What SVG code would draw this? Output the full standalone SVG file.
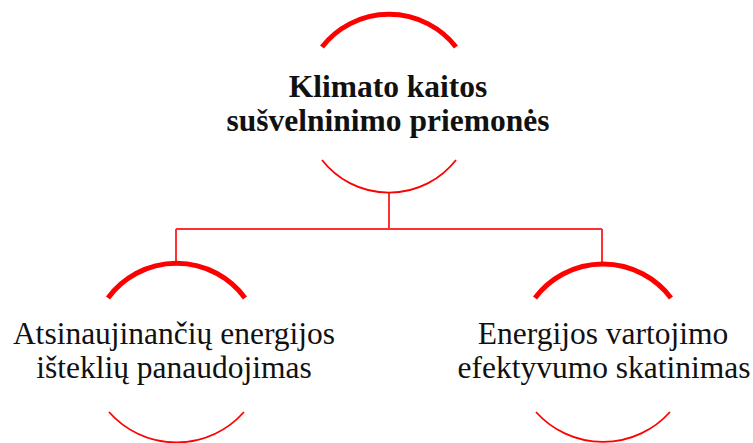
<svg xmlns="http://www.w3.org/2000/svg" width="753" height="443" viewBox="0 0 753 443">
<style>
.top{fill:none;stroke:#ff0000;stroke-width:5}
.bot{fill:none;stroke:#ff0000;stroke-width:1.8}
.conn{fill:none;stroke:#ff3030;stroke-width:2}
text{font-size:31.5px;fill:#111;text-anchor:middle}
.b{font-weight:bold}
</style>
<rect width="753" height="443" fill="#fff"/>
<g id="connectors">
<path class="conn" d="M389 193V229M176 229H602M176 229V264M602 229V264"/>
</g>
<g font-family="Liberation Serif, Times New Roman, serif">
<g id="node-root">
<path class="top" d="M322 47A85 85 0 0 1 456 47"/>
<path class="bot" d="M322 160A85 85 0 0 0 456 160"/>
<text class="b" x="388" y="97">Klimato kaitos</text>
<text class="b" x="388" y="131">sušvelninimo priemonės</text>
</g>
<g id="node-left">
<path class="top" d="M108 298A85 85 0 0 1 245 298"/>
<path class="bot" d="M109 412A90 90 0 0 0 244 412"/>
<text x="174" y="344">Atsinaujinančių energijos</text>
<text x="174" y="378">išteklių panaudojimas</text>
</g>
<g id="node-right">
<path class="top" d="M535 298A85 85 0 0 1 671 298"/>
<path class="bot" d="M536 412A90 90 0 0 0 670 412"/>
<text x="603" y="344">Energijos vartojimo</text>
<text x="604" y="378">efektyvumo skatinimas</text>
</g>
</g>
</svg>
